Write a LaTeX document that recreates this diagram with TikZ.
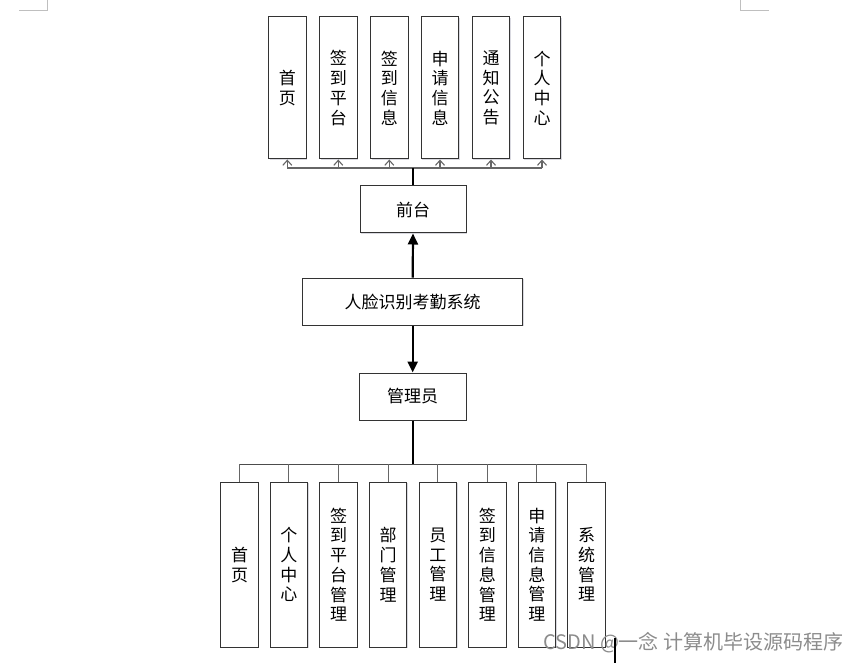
\documentclass[tikz,border=0pt]{standalone}
\usepackage{fontspec}
\newfontfamily\cjk{Noto Sans CJK SC}
\usetikzlibrary{arrows.meta,shadows}
\begin{document}
\begin{tikzpicture}[x=1pt,y=-1pt,
  box/.style={draw=black!80,line width=1pt,fill=white,inner sep=0pt,
    font=\cjk\fontsize{17}{19.7}\selectfont,align=center,
    drop shadow={shadow xshift=1.2pt,shadow yshift=-1.2pt,fill=blue!20!black!15,opacity=1}},
  vbox/.style={box,minimum width=37.5pt},
  topbox/.style={vbox,minimum height=142pt},
  botbox/.style={vbox,minimum height=165pt},
  hbox/.style={box,minimum height=47pt},
  link/.style={draw=black!60,line width=1.1pt},
  uparrow/.style={link,-{Straight Barb[length=5pt,width=9pt]}},
  mainline/.style={draw=black,line width=2.2pt},
  mainarrow/.style={mainline,-{Triangle[length=11pt,width=10pt]}},
  corner/.style={draw=black!25,line width=0.8pt}
]
\useasboundingbox (0,0) rectangle (857,663);
% corner marks
\draw[corner] (19,10.3) -- (47.5,10.3) -- (47.5,0);
\draw[corner] (740.3,0) -- (740.3,10.3) -- (769,10.3);

% top row
\node[topbox] (t1) at (287.3,88) {首\\页};
\node[topbox] (t2) at (338.3,88) {签\\到\\平\\台};
\node[topbox] (t3) at (389.3,88) {签\\到\\信\\息};
\node[topbox] (t4) at (440,88) {申\\请\\信\\息};
\node[topbox] (t5) at (491,88) {通\\知\\公\\告};
\node[topbox] (t6) at (542,88) {个\\人\\中\\心};

% middle
\node[hbox,minimum width=106pt] (front) at (413,209.5) {前台};
\node[hbox,minimum width=220pt] (sys) at (412.7,301.7) {人脸识别考勤系统};
\node[hbox,minimum width=106.7pt] (admin) at (412.7,396.5) {管理员};

% bottom row
\node[botbox] (b1) at (239.5,564.7) {首\\页};
\node[botbox] (b2) at (288.8,564.7) {个\\人\\中\\心};
\node[botbox] (b3) at (338.5,564.7) {签\\到\\平\\台\\管\\理};
\node[botbox] (b4) at (388.2,564.7) {部\\门\\管\\理};
\node[botbox] (b5) at (437.8,564.7) {员\\工\\管\\理};
\node[botbox] (b6) at (487.3,564.7) {签\\到\\信\\息\\管\\理};
\node[botbox] (b7) at (536.8,564.7) {申\\请\\信\\息\\管\\理};
\node[botbox] (b8) at (586.5,564.7) {系\\统\\管\\理};

% top bus
\coordinate (tbus) at (front.north |- 0,168);
\draw[link] (t1.south |- tbus) -- (t6.south |- tbus);
\foreach \n in {t1,t2,t3,t4,t5,t6}
  \draw[uparrow] (\n.south |- tbus) -- (\n.south);
\draw[mainline] (tbus) -- (front.north);

% main arrows
\draw[mainarrow] (sys.north) -- (front.south);
\draw[mainarrow] (sys.south) -- (admin.north);

% bottom bus
\coordinate (bbus) at (admin.south |- 0,464.3);
\draw[line width=1.3pt,draw=black!70] (b1.north |- bbus) -- (b8.north |- bbus);
\foreach \n in {b1,b2,b3,b4,b5,b6,b7,b8}
  \draw[link] (\n.north |- bbus) -- (\n.north);
\draw[mainline] (admin.south) -- (bbus);

% watermark and cursor
\node[anchor=west,inner sep=0pt,font=\cjk\fontsize{20}{20}\selectfont,text=black!45] (wm) at (543,643) {CSDN @一念 计算机毕设源码程序};
\draw[line width=2pt] (615,638) -- (615,663);
\end{tikzpicture}
\end{document}
